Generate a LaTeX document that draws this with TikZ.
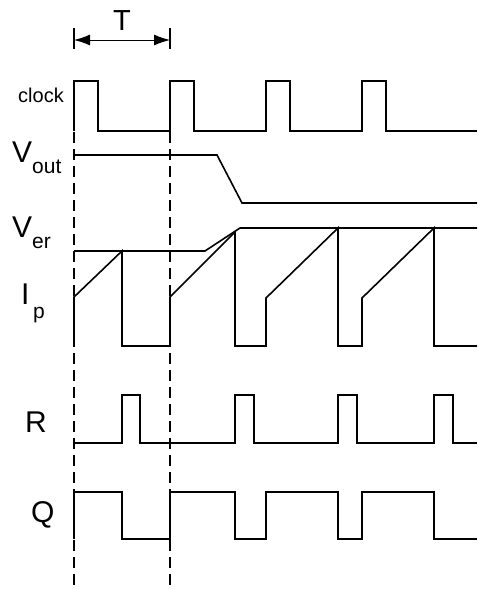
\documentclass[tikz,border=0pt]{standalone}
\usepackage{fontspec}
\setmainfont{Liberation Sans}
\usetikzlibrary{arrows.meta}

\newcommand{\sigsub}[3]{#1\raisebox{-#3}{\fontsize{21}{21}\selectfont #2}}

\tikzset{
    wave/.style={line width=1.6pt},
    guide/.style={line width=1.3pt, dash pattern=on 11pt off 6pt},
    siglabel/.style={font=\fontsize{30}{30}\selectfont, inner sep=0pt, anchor=base west},
}

\begin{document}
\begin{tikzpicture}[x=1pt, y=-1pt]

    \useasboundingbox (0,0) rectangle (477,589);

    % period marker
    \coordinate (tstart) at (74,40);
    \coordinate (tend) at (170,40);

    \draw [line width=1.3pt]
        (74,28) -- (74,49)
        (170,28) -- (170,49)
        ;
    \draw [line width=1pt, {Latex[length=16pt,width=11pt]}-{Latex[length=16pt,width=11pt]}]
        (tstart) -- (tend)
        ;
    \node [inner sep=0pt, anchor=base, font=\fontsize{29}{29}\selectfont]
        (period) at (122,30) {T};

    % guide lines
    \draw [guide]
        (74,81) -- (74,589)
        (170,81) -- (170,589)
        ;

    % labels
    \node [siglabel, font=\fontsize{20}{20}\selectfont] (clk) at (18,102) {clock};
    \node [siglabel] (vout) at (12,162) {\sigsub{V}{out}{11pt}};
    \node [siglabel] (ver) at (12,237) {\sigsub{V}{er}{11pt}};
    \node [siglabel] (ip) at (21,304) {\sigsub{I}{\,p}{14pt}};
    \node [siglabel] (rst) at (25,432) {R};
    \node [siglabel] (qout) at (31,522) {Q};

    % clock
    \draw [wave]
        (74,131) -- (74,81) -- (98,81) -- (98,131)
        -- (170,131) -- (170,81) -- (194,81) -- (194,131)
        -- (266,131) -- (266,81) -- (290,81) -- (290,131)
        -- (362,131) -- (362,81) -- (386,81) -- (386,131)
        -- (477,131)
        ;

    % output voltage
    \draw [wave]
        (74,155) -- (217,155) -- (242,203) -- (477,203)
        ;

    % error voltage
    \draw [wave]
        (74,251) -- (205,251) -- (240,228) -- (477,228)
        ;

    % peak current ramp
    \draw [wave]
        (74,346) -- (74,297) -- (122,251) -- (122,346)
        -- (170,346) -- (170,297) -- (235,232) -- (235,346)
        -- (266,346) -- (266,298) -- (338,228) -- (338,346)
        -- (362,346) -- (362,298) -- (434,228) -- (434,346)
        -- (477,346)
        ;

    % reset
    \draw [wave]
        (74,443) -- (122,443) -- (122,395) -- (140,395) -- (140,443)
        -- (235,443) -- (235,395) -- (254,395) -- (254,443)
        -- (338,443) -- (338,395) -- (357,395) -- (357,443)
        -- (434,443) -- (434,395) -- (453,395) -- (453,443)
        -- (477,443)
        ;

    % latch output
    \draw [wave]
        (74,539) -- (74,492) -- (122,492) -- (122,539)
        -- (170,539) -- (170,492) -- (235,492) -- (235,539)
        -- (266,539) -- (266,492) -- (338,492) -- (338,539)
        -- (362,539) -- (362,492) -- (434,492) -- (434,539)
        -- (477,539)
        ;
\end{tikzpicture}
\end{document}
